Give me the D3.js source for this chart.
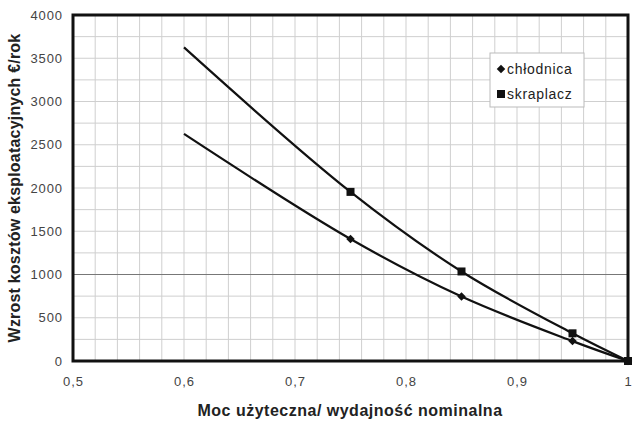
<!DOCTYPE html>
<html><head><meta charset="utf-8">
<script src="https://cdn.jsdelivr.net/npm/d3@7"></script>
<style>body{margin:0;background:#fff;} svg{display:block;font-family:"Liberation Sans",Arial,sans-serif;}</style>
</head><body>
<svg id="c" width="638" height="423"></svg>
<script>
const xCurve = [0.6, 0.75, 0.85, 0.95, 1.0];
const chlodnica = [2625, 1410, 745, 230, 0];
const skraplacz = [3625, 1955, 1035, 320, 0];
const markerFrom = 1; // markers drawn from the 0.75 point on
const xTicks = [0.5, 0.6, 0.7, 0.8, 0.9, 1.0];
const yTicks = [0, 500, 1000, 1500, 2000, 2500, 3000, 3500, 4000];
const seriesNames = ["chłodnica", "skraplacz"];
const xTitle = "Moc użyteczna/ wydajność nominalna";
const yTitle = "Wzrost kosztów eksploatacyjnych €/rok";

const svg = d3.select("#c");
const L = 73, R = 628, T = 15, B = 361;
const x = d3.scaleLinear().domain([0.5, 1.0]).range([L, R]);
const y = d3.scaleLinear().domain([0, 4000]).range([B, T]);
const fmt = v => (v === 1 ? "1" : String(v).replace(".", ","));

// grid
const g = svg.append("g");
d3.range(0.5, 1.0001, 0.02).forEach(v => {
  g.append("line").attr("x1", x(v)).attr("x2", x(v)).attr("y1", T).attr("y2", B)
    .attr("stroke", "#cfcfcf").attr("stroke-width", 1);
});
d3.range(0, 4001, 250).forEach(v => {
  g.append("line").attr("x1", L).attr("x2", R).attr("y1", y(v)).attr("y2", y(v))
    .attr("stroke", v === 1000 ? "#777" : "#cfcfcf").attr("stroke-width", 1);
});

// axes (labels only)
const xa = svg.append("g").attr("transform", `translate(0,${B})`)
  .call(d3.axisBottom(x).tickValues(xTicks).tickFormat(fmt).tickSize(0).tickPadding(16));
const ya = svg.append("g").attr("transform", `translate(${L},0)`)
  .call(d3.axisLeft(y).tickValues(yTicks).tickFormat(d => String(d)).tickSize(0).tickPadding(10));
[xa, ya].forEach(a => {
  a.select(".domain").remove();
  a.selectAll("text").attr("font-size", 13).attr("fill", "#444").attr("letter-spacing", 0.9)
    .attr("font-family", "'Liberation Sans',Arial,sans-serif");
});

// frame
svg.append("rect").attr("x", L).attr("y", T).attr("width", R - L).attr("height", B - T)
  .attr("fill", "none").attr("stroke", "#111").attr("stroke-width", 3);

// curves
const line = d3.line().x(d => x(d[0])).y(d => y(d[1])).curve(d3.curveCatmullRom.alpha(0.5));
const diamond = (sel, cx, cy) => sel.append("rect").attr("x", -3).attr("y", -3)
  .attr("width", 6).attr("height", 6).attr("fill", "#111")
  .attr("transform", `translate(${cx},${cy}) rotate(45)`);
[chlodnica, skraplacz].forEach((s, i) => {
  const pts = xCurve.map((xv, j) => [xv, s[j]]);
  svg.append("path").attr("d", line(pts)).attr("fill", "none")
    .attr("stroke", "#111").attr("stroke-width", 2.2);
  pts.slice(markerFrom).forEach(p => {
    if (i === 0) diamond(svg, x(p[0]), y(p[1]));
    else svg.append("rect").attr("x", x(p[0]) - 4).attr("y", y(p[1]) - 4)
        .attr("width", 8).attr("height", 8).attr("fill", "#111");
  });
});

// legend
const lg = svg.append("g");
lg.append("rect").attr("x", 490).attr("y", 53).attr("width", 94).attr("height", 54)
  .attr("fill", "#fff").attr("stroke", "#bbb").attr("stroke-width", 1);
seriesNames.forEach((n, i) => {
  const yy = 69 + i * 25;
  if (i === 0) diamond(lg, 501, yy);
  else lg.append("rect").attr("x", 497).attr("y", yy - 4).attr("width", 8).attr("height", 8).attr("fill", "#111");
  lg.append("text").attr("x", 507).attr("y", yy + 5).attr("font-size", 14)
    .attr("letter-spacing", 0.7).attr("fill", "#222").text(n);
});

// titles
svg.append("text").attr("x", 350).attr("y", 416).attr("text-anchor", "middle")
  .attr("font-size", 16).attr("font-weight", "bold").attr("letter-spacing", 0.5)
  .attr("fill", "#222").text(xTitle);
svg.append("text").attr("transform", `translate(20,${(28 + 348) / 2}) rotate(-90)`)
  .attr("text-anchor", "middle").attr("font-size", 16).attr("font-weight", "bold")
  .attr("letter-spacing", 0.2).attr("fill", "#222").text(yTitle);
</script>
</body></html>
